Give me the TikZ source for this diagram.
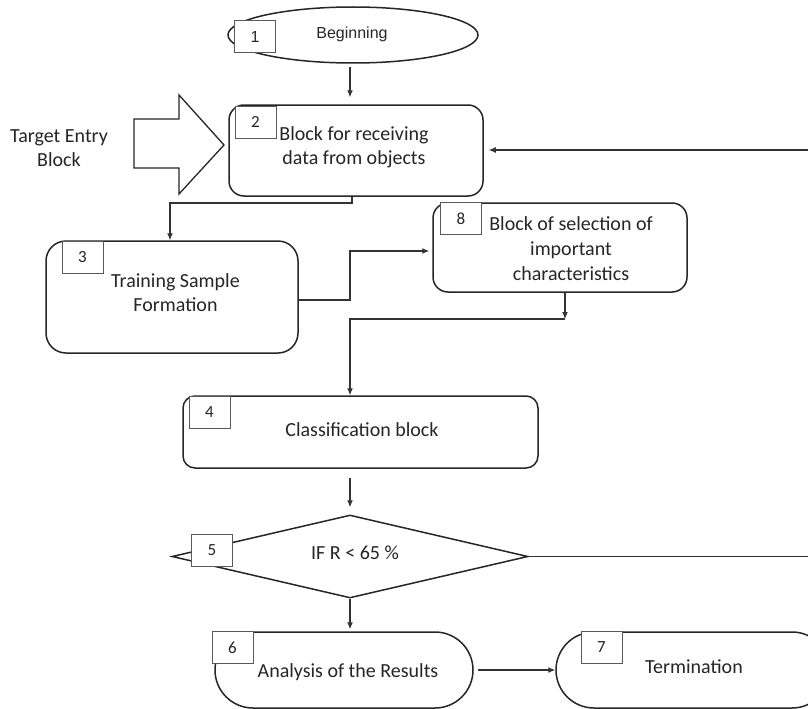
\documentclass[tikz,border=0pt]{standalone}
\usepackage{fontspec}
\setmainfont{Carlito}
\newfontfamily\arialfont{Liberation Sans}
\usetikzlibrary{arrows.meta,shapes.geometric,calc}

\begin{document}
\begin{tikzpicture}[x=1pt,y=-1pt,
  outline/.style={draw=black!85, line width=1.5pt},
  block/.style={outline, rounded corners=#1, inner sep=0pt},
  numbox/.style={draw=black!65, line width=0.9pt, fill=white, minimum width=41pt,
    minimum height=32pt, inner sep=0pt, text=black!85, font=\fontsize{17}{19}\selectfont},
  label/.style={text=black!85, align=center, inner sep=0pt, font=\fontsize{20}{24}\selectfont},
  conn/.style={draw=black!80, line width=1.1pt},
  arr/.style={conn, -{Latex[length=7pt,width=6pt]}},
]
\useasboundingbox (0,0) rectangle (808,709);
\clip (0,0) rectangle (808,709);
\fill[white] (0,0) rectangle (808,709);

% ---- shapes ----
\node[ellipse, outline, minimum width=250pt, minimum height=56pt, inner sep=0pt] (e1) at (353,35) {};
\node[block=15pt, minimum width=254pt, minimum height=91pt] (b2) at (356,150.5) {};
\node[block=20pt, minimum width=252pt, minimum height=112pt] (b3) at (172,297) {};
\node[block=15pt, minimum width=254pt, minimum height=89pt] (b8) at (560,247.5) {};
\node[block=12pt, minimum width=355pt, minimum height=72pt] (b4) at (360.5,432) {};
\node[diamond, outline, minimum width=356pt, minimum height=83pt, inner sep=0pt] (d5) at (350,556.5) {};
\node[block=38pt, minimum width=258pt, minimum height=76pt] (b6) at (344,670) {};
\node[block=38pt, minimum width=274pt, minimum height=76pt] (b7) at (693,670) {};

% block arrow of the target entry
\draw[outline, line width=1.3pt, line join=miter]
  (134,119) -- (179,119) -- (179,95) -- (224,145) -- (179,194) -- (179,168) -- (134,168) -- cycle;

% ---- numbered tags ----
\node[numbox, font=\arialfont\fontsize{16}{18}\selectfont] (n1) at (255,36.5) {1};
\node[numbox] (n2) at (255.5,122) {2};
\node[numbox] (n3) at (82.5,257) {3};
\node[numbox] (n8) at (461,218.5) {8};
\node[numbox] (n4) at (209.5,412) {4};
\node[numbox] (n5) at (212,550) {5};
\node[numbox] (n6) at (232.5,647.5) {6};
\node[numbox] (n7) at (601.5,647.5) {7};

% ---- texts ----
\node[text=black!85, inner sep=0pt, font=\arialfont\fontsize{16}{18}\selectfont] (t1) at (352,34) {Beginning};
\node[label] (tin) at (59,148.5) {Target Entry\\Block};
\node[label] (t2) at (354,147.5) {Block for receiving\\data from objects};
\node[label] (t3) at (175.5,293) {Training Sample\\Formation};
\node[label, font=\fontsize{20}{25}\selectfont] (t8) at (571,248.5) {Block of selection of\\important\\characteristics};
\node[label] (t4) at (362,430) {Classification block};
\node[label] (t5) at (355,553) {IF R < 65 \%};
\node[label] (t6) at (348,672) {Analysis of the Results};
\node[label] (t7) at (694,667) {Termination};

% ---- routing points ----
\coordinate (xa) at (350,0);
\coordinate (xb) at (352,0);
\coordinate (k1) at (170,203);
\coordinate (k2) at (350,251);
\coordinate (ya) at (0,300);
\coordinate (j) at (565,319);
\coordinate (r1) at (808,556.5);
\coordinate (r2) at (808,150);

% ---- connectors ----
\draw[arr, shorten <=3pt, shorten >=7pt] (e1.south -| xa) -- (b2.north -| xa);
\draw[arr] (b2.south -| xb) |- (k1) -- (b3.north -| k1);
\draw[arr, shorten >=3pt] (b3.east |- ya) -| (k2) -- (b8.west |- k2);
\draw[arr] (b8.south -| j) -- (j);
\draw[arr] (j) -| (b4.north -| xa);
\draw[arr, shorten <=9pt, shorten >=7pt] (b4.south -| xa) -- (d5.north);
\draw[arr, shorten >=2pt] (d5.south) -- (d5.south |- b6.north);
\draw[arr, shorten <=4pt] (b6.east) -- (b7.west);
\draw[conn] (d5.east) -- (r1);
\draw[arr, shorten >=5pt] (r2) -- (b2.east |- r2);
\end{tikzpicture}
\end{document}
